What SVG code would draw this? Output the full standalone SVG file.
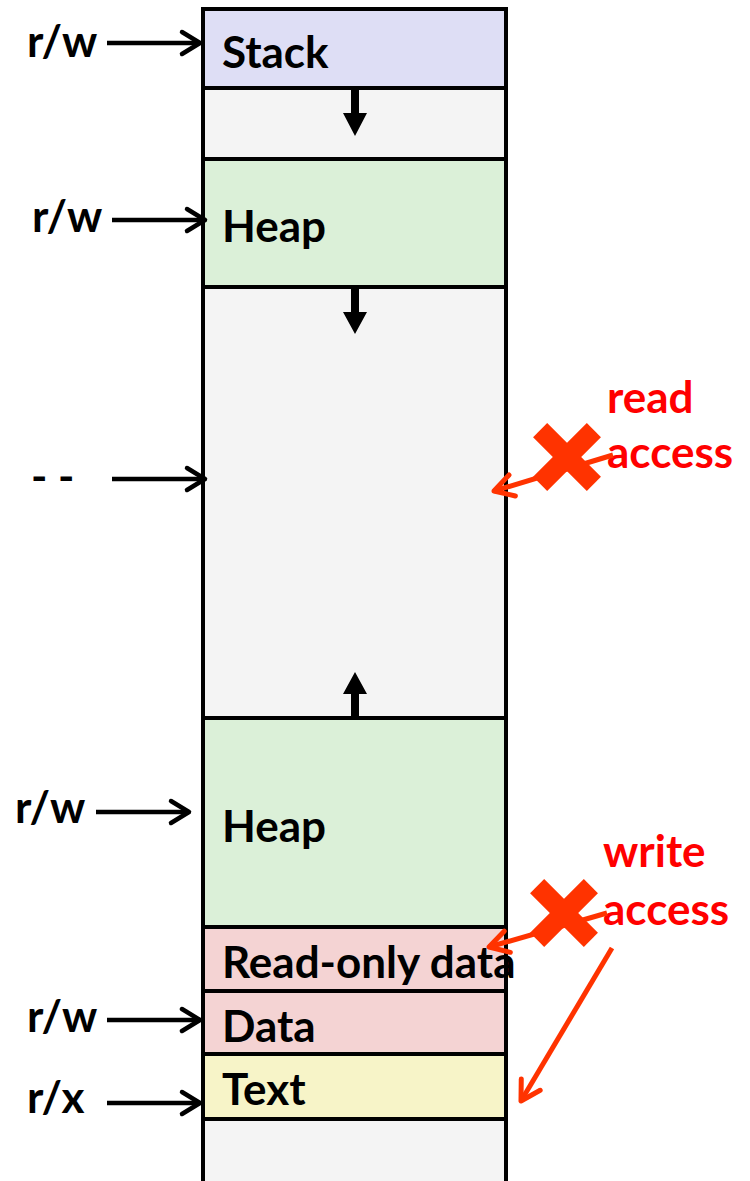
<svg xmlns="http://www.w3.org/2000/svg" width="750" height="1181" viewBox="0 0 750 1181">
  <style>
    .seg { stroke: #000; stroke-width: 4; }
    .lbl { font-family: Lato, "Open Sans", "Liberation Sans", sans-serif; font-weight: bold; font-size: 44px; fill: #000; }
    .note { font-family: Lato, "Open Sans", "Liberation Sans", sans-serif; font-weight: bold; font-size: 44px; fill: #ff0000; }
    .ptr { stroke: #000; stroke-width: 4.5; fill: none; marker-end: url(#chev); }
    .deny { stroke: #ff3300; stroke-width: 5; fill: none; marker-end: url(#chevRed); }
    .grow { fill: #000; }
    .cross { fill: #ff3300; }
  </style>
  <defs>
    <marker id="chev" viewBox="-24 -16 28 32" markerWidth="28" markerHeight="32" refX="0" refY="0" orient="auto" markerUnits="userSpaceOnUse">
      <path d="M-18,-11 L0,0 L-18,11" fill="none" stroke="#000" stroke-width="4.5" stroke-linecap="round" stroke-linejoin="round"/>
    </marker>
    <marker id="chevRed" viewBox="-24 -16 28 32" markerWidth="28" markerHeight="32" refX="0" refY="0" orient="auto" markerUnits="userSpaceOnUse">
      <path d="M-19,-11 L0,0 L-19,11" fill="none" stroke="#ff3300" stroke-width="5" stroke-linecap="round" stroke-linejoin="round"/>
    </marker>
    <g id="xmark">
      <rect x="-38" y="-10" width="76" height="20" transform="rotate(45)"/>
      <rect x="-38" y="-10" width="76" height="20" transform="rotate(-45)"/>
    </g>
  </defs>

  <rect width="750" height="1181" fill="#fff"/>

  <!-- memory segments, top to bottom -->
  <g id="stack">
    <rect class="seg" x="203" y="9" width="303" height="79" fill="#dedef5"/>
    <text class="lbl" x="222" y="68">Stack</text>
  </g>
  <g id="gap-stack">
    <rect class="seg" x="203" y="88" width="303" height="71" fill="#f4f4f4"/>
  </g>
  <g id="heap-top">
    <rect class="seg" x="203" y="159" width="303" height="128" fill="#dbf0d8"/>
    <text class="lbl" x="222" y="242">Heap</text>
  </g>
  <g id="unmapped">
    <rect class="seg" x="203" y="287" width="303" height="431" fill="#f4f4f4"/>
  </g>
  <g id="heap-bottom">
    <rect class="seg" x="203" y="718" width="303" height="209" fill="#dbf0d8"/>
    <text class="lbl" x="222" y="842">Heap</text>
  </g>
  <g id="rodata">
    <rect class="seg" x="203" y="927" width="303" height="64" fill="#f4d3d3"/>
    <text class="lbl" x="222" y="978">Read-only data</text>
  </g>
  <g id="data">
    <rect class="seg" x="203" y="991" width="303" height="63" fill="#f4d3d3"/>
    <text class="lbl" x="222" y="1042">Data</text>
  </g>
  <g id="text">
    <rect class="seg" x="203" y="1054" width="303" height="65" fill="#f7f4c8"/>
    <text class="lbl" x="222" y="1105">Text</text>
  </g>
  <g id="gap-bottom">
    <rect class="seg" x="203" y="1119" width="303" height="70" fill="#f4f4f4"/>
  </g>

  <!-- growth direction arrows -->
  <g id="growth">
    <path class="grow" d="M351,90 H359 V113 H367 L355,136 L343,113 H351 Z"/>
    <path class="grow" d="M351,289 H359 V312 H367 L355,334 L343,312 H351 Z"/>
    <path class="grow" d="M351,716 H359 V694 H367 L355,672 L343,694 H351 Z"/>
  </g>

  <!-- permission labels -->
  <g id="perm-labels">
    <text class="lbl" x="27" y="57">r/w</text>
    <text class="lbl" x="32" y="232">r/w</text>
    <text class="lbl" x="31" y="492">- -</text>
    <text class="lbl" x="15" y="823">r/w</text>
    <text class="lbl" x="27" y="1032">r/w</text>
    <text class="lbl" x="27" y="1113">r/x</text>
  </g>

  <!-- access notes -->
  <g id="read-access">
    <text class="note" x="607" y="413">read</text>
    <text class="note" x="607" y="468">access</text>
  </g>
  <g id="write-access">
    <text class="note" x="603" y="867">write</text>
    <text class="note" x="603" y="925">access</text>
  </g>

  <g id="connectors">
    <line class="ptr" x1="107" y1="43" x2="200" y2="43"/>
    <line class="ptr" x1="112" y1="220" x2="205" y2="220"/>
    <line class="ptr" x1="112" y1="479" x2="205" y2="479"/>
    <line class="ptr" x1="96" y1="812" x2="189" y2="812"/>
    <line class="ptr" x1="107" y1="1020" x2="200" y2="1020"/>
    <line class="ptr" x1="107" y1="1103" x2="200" y2="1103"/>

    <line class="deny" x1="613" y1="455" x2="494" y2="491"/>
    <line class="deny" x1="607" y1="913" x2="489" y2="947"/>
    <line class="deny" x1="612" y1="948" x2="521" y2="1101"/>
  </g>

  <!-- blocked markers -->
  <g id="blocked-read" class="cross">
    <use href="#xmark" x="567" y="457"/>
  </g>
  <g id="blocked-write" class="cross">
    <use href="#xmark" x="564" y="913"/>
  </g>
</svg>
